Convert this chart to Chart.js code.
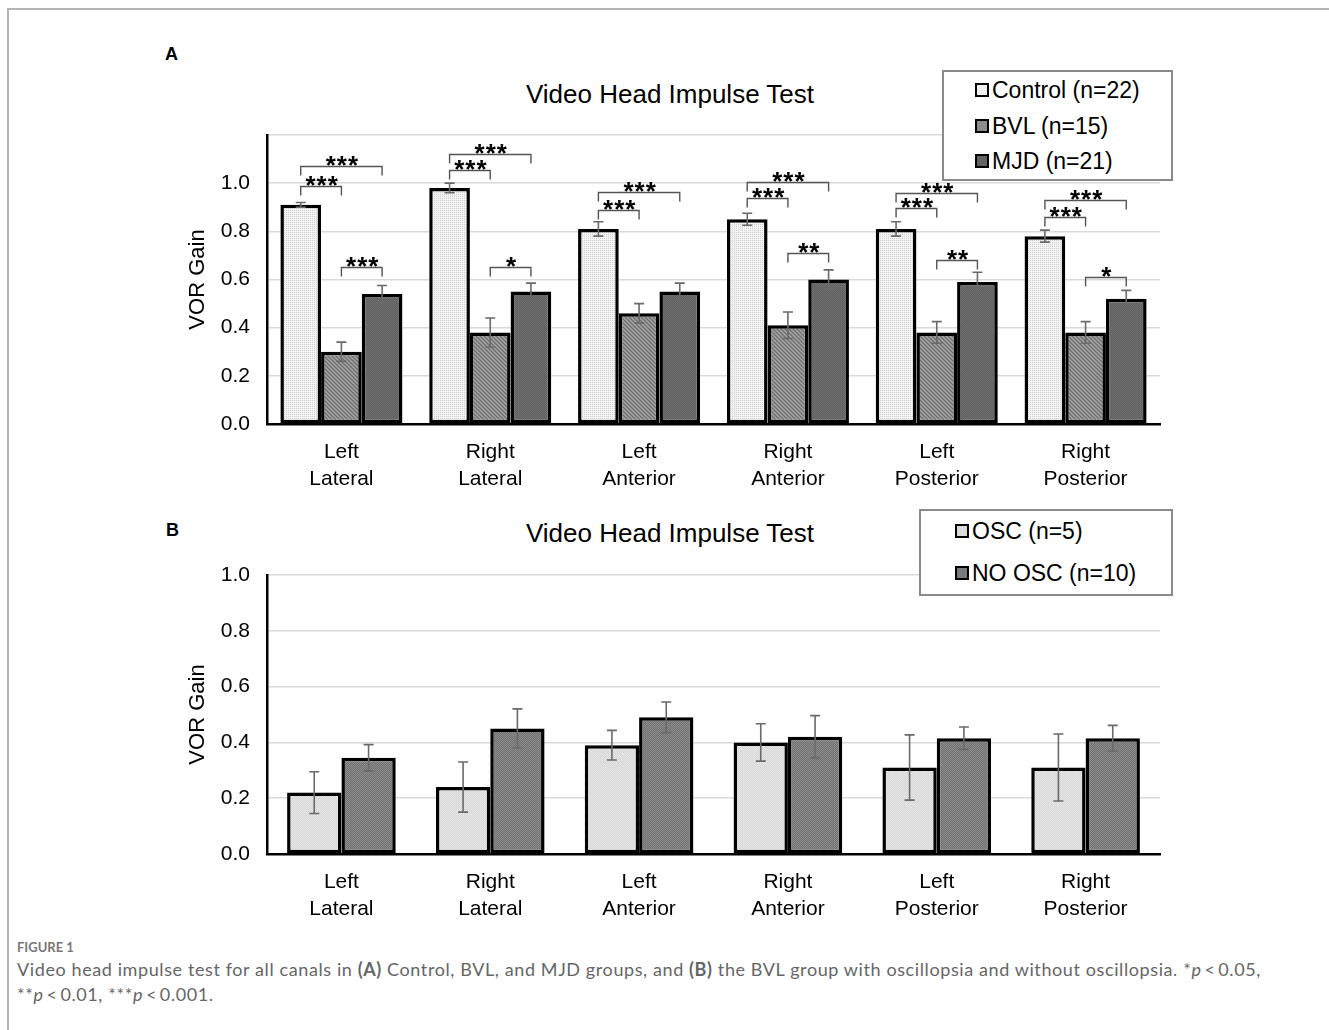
<!DOCTYPE html>
<html>
<head>
<meta charset="utf-8">
<script src="https://cdn.jsdelivr.net/npm/chart.js@4.4.1/dist/chart.umd.min.js"></script>
<style>
  html, body { margin: 0; padding: 0; background: #fff; }
  body { width: 1329px; height: 1030px; position: relative; overflow: hidden; font-family: 'Liberation Sans', Arial, sans-serif; }
  .frame-top { position: absolute; left: 8px; top: 8px; width: 1321px; height: 0; border-top: 2px solid #b4b4b4; }
  .frame-left { position: absolute; left: 7px; top: 8px; width: 0; height: 1022px; border-left: 2px solid #b4b4b4; }
  .panel-letter { position: absolute; font-weight: bold; font-size: 18px; color: #000; }
  .title { position: absolute; width: 500px; text-align: center; font-size: 26px; color: #000; }
  .wrap { position: absolute; left: 0; width: 1329px; }
  .legend { position: absolute; background: #fff; border: 2px solid #8a8a8a; box-sizing: border-box; }
  .legend .item { position: absolute; left: 31px; font-size: 23px; line-height: 26px; color: #000; white-space: nowrap; }
  .legend .mark { display: inline-block; width: 10px; height: 10px; border: 2.5px solid #000; vertical-align: 1px; margin-right: 3px; }
  .caption-head { position: absolute; left: 17px; top: 939px; font-family: Lato, 'Open Sans', sans-serif; font-weight: bold; font-size: 13px; color: #777; }
  .caption { position: absolute; left: 17px; top: 957px; font-family: Lato, 'Open Sans', sans-serif; font-size: 18px; letter-spacing: 0.6px; line-height: 25px; color: #666; white-space: nowrap; }
</style>
</head>
<body>
<div class="frame-top"></div>
<div class="frame-left"></div>

<div class="panel-letter" style="left:165px; top:44px;">A</div>
<div class="title" style="left:420px; top:79px;">Video Head Impulse Test</div>
<div class="wrap" style="top:0; height:500px;"><canvas id="chartA"></canvas></div>
<div class="legend" style="left:942px; top:70px; width:231px; height:111px;">
  <div class="item" style="top:5px;"><span class="mark" style="background:#efefef"></span>Control (n=22)</div>
  <div class="item" style="top:41px;"><span class="mark" style="background:#8c8c8c"></span>BVL (n=15)</div>
  <div class="item" style="top:76px;"><span class="mark" style="background:#636363"></span>MJD (n=21)</div>
</div>

<div class="panel-letter" style="left:166px; top:520px;">B</div>
<div class="title" style="left:420px; top:518px;">Video Head Impulse Test</div>
<div class="wrap" style="top:500px; height:430px;"><canvas id="chartB"></canvas></div>
<div class="legend" style="left:919px; top:509px; width:254px; height:87px;">
  <div class="item" style="left:34px; top:7px;"><span class="mark" style="background:#d9d9d9"></span>OSC (n=5)</div>
  <div class="item" style="left:34px; top:49px;"><span class="mark" style="background:#7a7a7a"></span>NO OSC (n=10)</div>
</div>

<div class="caption-head">FIGURE 1</div>
<div class="caption">Video head impulse test for all canals in <b>(A)</b> Control, BVL, and MJD groups, and <b>(B)</b> the BVL group with oscillopsia and without oscillopsia. *<i>p</i>&thinsp;&lt;&thinsp;0.05,<br>**<i>p</i>&thinsp;&lt;&thinsp;0.01, ***<i>p</i>&thinsp;&lt;&thinsp;0.001.</div>

<script>
// Semicircular canals on the x axis
const canals = [['Left', 'Lateral'], ['Right', 'Lateral'], ['Left', 'Anterior'], ['Right', 'Anterior'], ['Left', 'Posterior'], ['Right', 'Posterior']];

// Panel A: mean VOR gain and error per group
const controlGain = [0.91, 0.98, 0.81, 0.85, 0.81, 0.78];
const controlErr  = [0.01, 0.02, 0.03, 0.025, 0.03, 0.025];
const bvlGain     = [0.30, 0.38, 0.46, 0.41, 0.38, 0.38];
const bvlErr      = [0.04, 0.06, 0.04, 0.055, 0.045, 0.045];
const mjdGain     = [0.54, 0.55, 0.55, 0.60, 0.59, 0.52];
const mjdErr      = [0.035, 0.035, 0.035, 0.04, 0.04, 0.035];

// Panel B: BVL group split by oscillopsia
const oscGain     = [0.22, 0.24, 0.39, 0.40, 0.31, 0.31];
const oscErr      = [0.075, 0.09, 0.053, 0.067, 0.117, 0.12];
const noOscGain   = [0.345, 0.45, 0.49, 0.42, 0.415, 0.415];
const noOscErr    = [0.047, 0.07, 0.055, 0.076, 0.04, 0.046];

// Significance brackets in panel A (canal index, from dataset, to dataset, bracket height, label)
const sigCanal = [0, 0, 0, 1, 1, 1, 2, 2, 3, 3, 3, 4, 4, 4, 5, 5, 5];
const sigFrom  = [0, 0, 1, 0, 0, 1, 0, 0, 0, 0, 1, 0, 0, 1, 0, 0, 1];
const sigTo    = [1, 2, 2, 1, 2, 2, 1, 2, 1, 2, 2, 1, 2, 2, 1, 2, 2];
const sigLevel = [0.99, 1.07, 0.65, 1.054, 1.12, 0.65, 0.888, 0.963, 0.938, 1.004, 0.71, 0.896, 0.958, 0.68, 0.859, 0.929, 0.61];
const sigLabel = ['***', '***', '***', '***', '***', '*', '***', '***', '***', '***', '**', '***', '***', '**', '***', '***', '*'];

// Small texture tiles for the bar fills
function texture(base, paint) {
  const c = document.createElement('canvas');
  c.width = 4; c.height = 4;
  const g = c.getContext('2d');
  g.fillStyle = base; g.fillRect(0, 0, 4, 4);
  for (let y = 0; y < 4; y++) for (let x = 0; x < 4; x++) {
    const col = paint(x, y);
    if (col) { g.fillStyle = col; g.fillRect(x, y, 1, 1); }
  }
  return g.createPattern(c, 'repeat');
}
const fillControl = texture('#f3f3f3', (x, y) => (x % 2 === 0 && y % 2 === 0) ? '#cfcfcf' : null);
const fillBvl = texture('#8d8d8d', (x, y) => ((x - y + 4) % 4 === 0) ? '#6c6c6c' : ((x + y) % 2 === 0 ? '#a3a3a3' : null));
const fillMjd = texture('#5f5f5f', (x, y) => ((x + y) % 2 === 0) ? '#707070' : null);
const fillOsc = texture('#d7d7d7', (x, y) => ((x + y) % 2 === 0) ? '#e6e6e6' : null);
const fillNoOsc = texture('#737373', (x, y) => ((x + y) % 2 === 0) ? '#8a8a8a' : null);

// Error bars drawn from each dataset's `errors` array
const errorBars = {
  id: 'errorBars',
  afterDatasetsDraw(chart) {
    const ctx = chart.ctx;
    const ys = chart.scales.y;
    ctx.save();
    ctx.strokeStyle = '#6a6a6a';
    ctx.lineWidth = 1.6;
    chart.data.datasets.forEach((ds, di) => {
      const meta = chart.getDatasetMeta(di);
      meta.data.forEach((bar, i) => {
        const v = ds.data[i], e = ds.errors[i];
        const top = ys.getPixelForValue(v + e);
        const bot = ys.getPixelForValue(v - e);
        const x = bar.x;
        ctx.beginPath();
        ctx.moveTo(x, top); ctx.lineTo(x, bot);
        ctx.moveTo(x - 5, top); ctx.lineTo(x + 5, top);
        ctx.moveTo(x - 5, bot); ctx.lineTo(x + 5, bot);
        ctx.stroke();
      });
    });
    ctx.restore();
  }
};

// Significance brackets above the bars
const sigBrackets = {
  id: 'sigBrackets',
  afterDatasetsDraw(chart) {
    if (!chart.options.plugins.sigBrackets || !chart.options.plugins.sigBrackets.show) return;
    const ctx = chart.ctx;
    const ys = chart.scales.y;
    ctx.save();
    ctx.strokeStyle = '#555';
    ctx.lineWidth = 1.4;
    ctx.fillStyle = '#000';
    ctx.font = 'bold 26px "Liberation Sans", Arial, sans-serif';
    ctx.textAlign = 'center';
    ctx.textBaseline = 'alphabetic';
    if ('letterSpacing' in ctx) ctx.letterSpacing = '1px';
    for (let k = 0; k < sigCanal.length; k++) {
      const x1 = chart.getDatasetMeta(sigFrom[k]).data[sigCanal[k]].x;
      const x2 = chart.getDatasetMeta(sigTo[k]).data[sigCanal[k]].x;
      const y = Math.round(ys.getPixelForValue(sigLevel[k])) + 0.5;
      ctx.beginPath();
      ctx.moveTo(x1, y + 9); ctx.lineTo(x1, y); ctx.lineTo(x2, y); ctx.lineTo(x2, y + 9);
      ctx.stroke();
      ctx.fillText(sigLabel[k], (x1 + x2) / 2 + 1, y + 7);
    }
    ctx.restore();
  }
};

function makeChart(id, datasets, yMax, padTop, catPct, brackets) {
  return new Chart(document.getElementById(id), {
    type: 'bar',
    data: { labels: canals, datasets },
    plugins: [errorBars, sigBrackets],
    options: {
      responsive: true,
      maintainAspectRatio: false,
      animation: false,
      layout: { padding: { left: 180, right: 169, top: padTop, bottom: 0 } },
      datasets: { bar: { categoryPercentage: catPct, barPercentage: 1.0, borderWidth: 3.5, borderColor: '#000', borderSkipped: false } },
      plugins: {
        legend: { display: false },
        title: { display: false },
        tooltip: { enabled: false },
        sigBrackets: { show: brackets }
      },
      scales: {
        x: {
          grid: { display: false, drawTicks: false },
          border: { color: '#000', width: 2.5 },
          ticks: { color: '#000', padding: 15, font: { family: "'Liberation Sans', Arial, sans-serif", size: 21, lineHeight: 1.27 } },
          afterFit(s) { s.height = 76; }
        },
        y: {
          min: 0, max: yMax,
          grid: { color: '#d9d9d9', lineWidth: 1.5, drawTicks: false },
          border: { color: '#000', width: 2.5 },
          ticks: {
            stepSize: 0.2, color: '#000', padding: 17,
            font: { family: "'Liberation Sans', Arial, sans-serif", size: 21 },
            callback: v => v > 1.001 ? '' : v.toFixed(1)
          },
          title: { display: true, text: 'VOR Gain', color: '#000', padding: { top: 5, bottom: 0 }, font: { family: "'Liberation Sans', Arial, sans-serif", size: 22 } },
          afterFit(s) { s.width = 87; }
        }
      }
    }
  });
}

makeChart('chartA', [
  { label: 'Control (n=22)', data: controlGain, errors: controlErr, backgroundColor: fillControl },
  { label: 'BVL (n=15)', data: bvlGain, errors: bvlErr, backgroundColor: fillBvl },
  { label: 'MJD (n=21)', data: mjdGain, errors: mjdErr, backgroundColor: fillMjd }
], 1.2, 135, 0.82, true);

makeChart('chartB', [
  { label: 'OSC (n=5)', data: oscGain, errors: oscErr, backgroundColor: fillOsc },
  { label: 'NO OSC (n=10)', data: noOscGain, errors: noOscErr, backgroundColor: fillNoOsc }
], 1.0, 75, 0.73, false);
</script>
</body>
</html>
